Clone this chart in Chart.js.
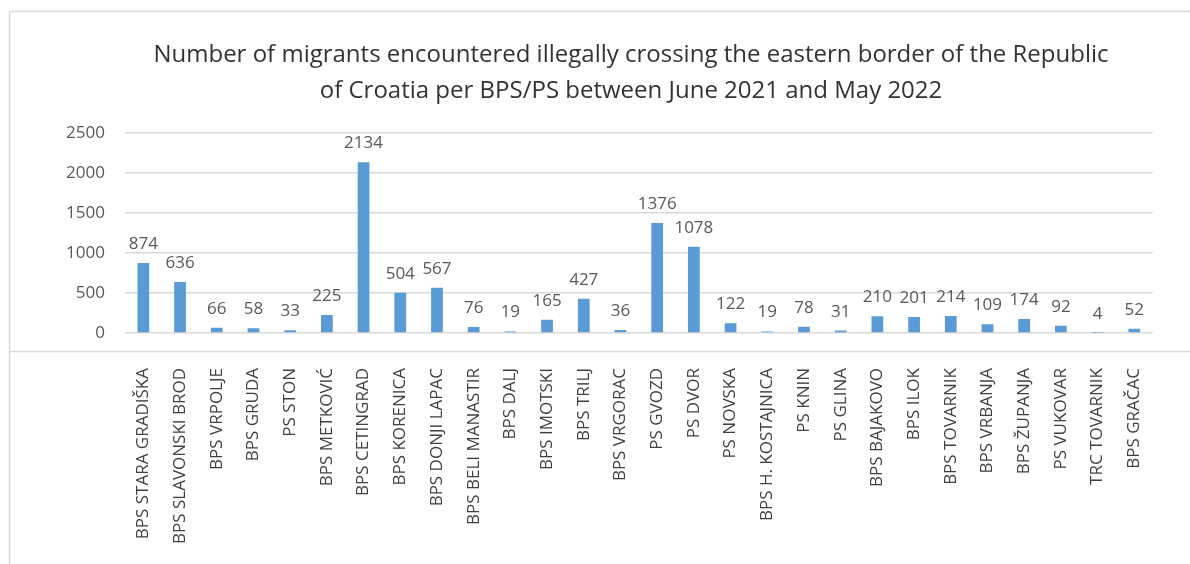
<!DOCTYPE html>
<html>
<head>
<meta charset="utf-8">
<script src="https://cdn.jsdelivr.net/npm/chart.js@4.4.1/dist/chart.umd.min.js"></script>
<style>
  html, body { margin: 0; padding: 0; background: #ffffff; }
  #wrap { width: 1190px; height: 564px; position: relative; }
</style>
</head>
<body>
<div id="wrap"><canvas id="chart" width="1190" height="564"></canvas></div>
<script>
// Border police stations (BPS / PS) along the eastern border
const stations = [
  'BPS STARA GRADIŠKA', 'BPS SLAVONSKI BROD', 'BPS VRPOLJE', 'BPS GRUDA', 'PS STON',
  'BPS METKOVIĆ', 'BPS CETINGRAD', 'BPS KORENICA', 'BPS DONJI LAPAC', 'BPS BELI MANASTIR',
  'BPS DALJ', 'BPS IMOTSKI', 'BPS TRILJ', 'BPS VRGORAC', 'PS GVOZD',
  'PS DVOR', 'PS NOVSKA', 'BPS H. KOSTAJNICA', 'PS KNIN', 'PS GLINA',
  'BPS BAJAKOVO', 'BPS ILOK', 'BPS TOVARNIK', 'BPS VRBANJA', 'BPS ŽUPANJA',
  'PS VUKOVAR', 'TRC TOVARNIK', 'BPS GRAČAC'
];

// Migrants encountered, June 2021 – May 2022
const migrants = [
  874, 636, 66, 58, 33,
  225, 2134, 504, 567, 76,
  19, 165, 427, 36, 1376,
  1078, 122, 19, 78, 31,
  210, 201, 214, 109, 174,
  92, 4, 52
];

const yTicks = [0, 500, 1000, 1500, 2000, 2500];

const titleLines = [
  'Number of migrants encountered illegally crossing the eastern border of the Republic',
  'of Croatia per BPS/PS between June 2021 and May 2022'
];

const FONT = "'Open Sans', 'Noto Sans', sans-serif";

// Light frame lines, the separator above the category labels, and the two-line title
const framePlugin = {
  id: 'frame',
  beforeDraw(chart) {
    const ctx = chart.ctx;
    ctx.save();
    ctx.fillStyle = '#ffffff';
    ctx.fillRect(0, 0, chart.width, chart.height);
    ctx.strokeStyle = '#d9d9d9';
    ctx.lineWidth = 1.5;
    ctx.beginPath();
    ctx.moveTo(9.5, 11.5);
    ctx.lineTo(chart.width, 11.5);
    ctx.moveTo(9.5, 11.5);
    ctx.lineTo(9.5, chart.height);
    const sepY = chart.chartArea.bottom + 18.5;
    ctx.moveTo(9.5, sepY);
    ctx.lineTo(chart.width, sepY);
    ctx.stroke();

    ctx.fillStyle = '#333333';
    ctx.font = '24px ' + FONT;
    ctx.textAlign = 'center';
    ctx.textBaseline = 'alphabetic';
    ctx.fillText(titleLines[0], 631, 62);
    ctx.fillText(titleLines[1], 631, 98);
    ctx.restore();
  }
};

// Value labels above each bar
const valueLabels = {
  id: 'valueLabels',
  afterDatasetsDraw(chart) {
    const ctx = chart.ctx;
    const meta = chart.getDatasetMeta(0);
    const data = chart.data.datasets[0].data;
    ctx.save();
    ctx.font = '17px ' + FONT;
    ctx.fillStyle = '#595959';
    ctx.textAlign = 'center';
    ctx.textBaseline = 'alphabetic';
    meta.data.forEach((bar, i) => {
      ctx.fillText(String(data[i]), bar.x, bar.y - 14);
    });
    ctx.restore();
  }
};

new Chart(document.getElementById('chart'), {
  type: 'bar',
  data: {
    labels: stations,
    datasets: [{
      data: migrants,
      backgroundColor: '#5b9bd5',
      borderWidth: 0,
      categoryPercentage: 1.0,
      barPercentage: 0.32
    }]
  },
  options: {
    responsive: false,
    animation: false,
    devicePixelRatio: 1,
    layout: { padding: { left: 63, right: 18, top: 133, bottom: 8 } },
    plugins: {
      legend: { display: false },
      tooltip: { enabled: false },
      title: { display: false }
    },
    scales: {
      x: {
        grid: { display: false, drawTicks: false },
        border: { display: false },
        ticks: {
          autoSkip: false,
          maxRotation: 90,
          minRotation: 90,
          padding: 35,
          color: '#404040',
          font: { family: FONT, size: 17 }
        },
        afterFit(scale) { scale.height = 223; }
      },
      y: {
        min: 0,
        max: 2500,
        afterBuildTicks(scale) { scale.ticks = yTicks.map(v => ({ value: v })); },
        grid: { color: '#d9d9d9', lineWidth: 1.5, drawTicks: false },
        border: { display: false },
        ticks: {
          padding: 20,
          color: '#595959',
          font: { family: FONT, size: 17 },
          callback: (v) => String(v)
        },
        afterFit(scale) { scale.width = 62; }
      }
    }
  },
  plugins: [framePlugin, valueLabels]
});
</script>
</body>
</html>
